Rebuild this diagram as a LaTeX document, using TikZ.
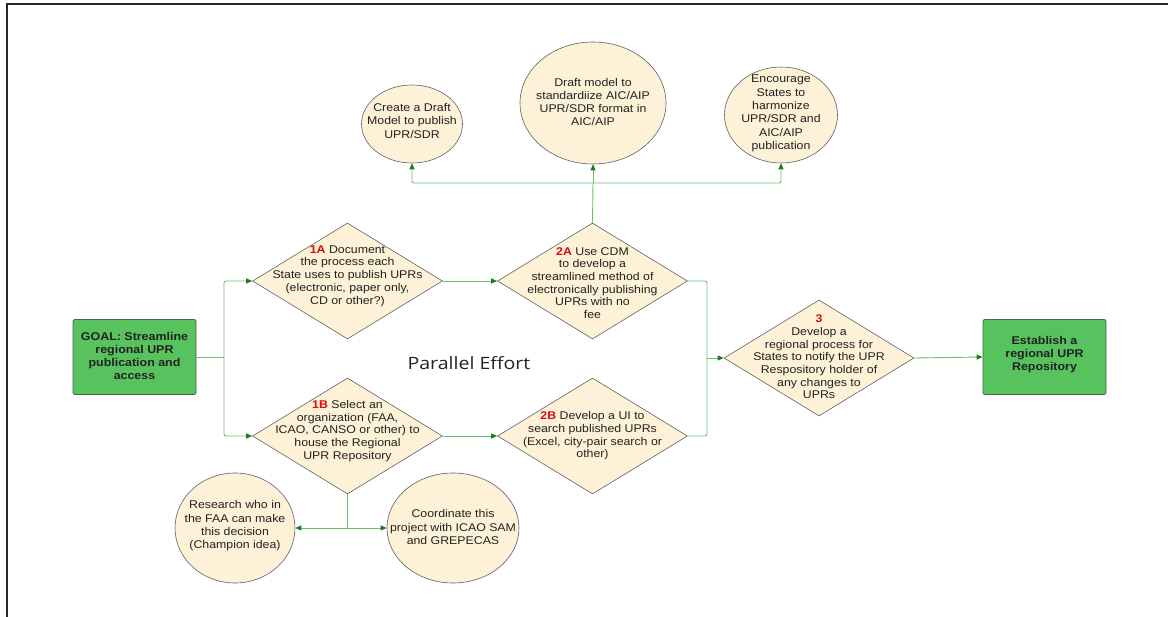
\documentclass[tikz,border=0pt]{standalone}
\usepackage{fontspec}
\setmainfont{Liberation Sans}[FakeStretch=1.1]
\newfontfamily\pefont{Open Sans}[FakeStretch=1.15]
\usetikzlibrary{shapes.geometric,arrows.meta}
\definecolor{cream}{HTML}{FDF1D8}
\definecolor{boxgreen}{HTML}{58C35E}
\definecolor{boxedge}{HTML}{3F6B42}
\definecolor{linegreen}{HTML}{6CBF70}
\definecolor{tipgreen}{HTML}{1E7A22}
\definecolor{labred}{HTML}{D01010}
\definecolor{txtc}{HTML}{222222}
\newcommand{\lab}[1]{\textcolor{labred}{\textbf{#1}}}
\begin{document}
\begin{tikzpicture}[x=1pt,y=-1pt,
  dia/.style={diamond, draw=gray!75!black, line width=0.6pt, fill=cream, minimum width=190pt, minimum height=116pt, inner sep=0pt},
  ell/.style={ellipse, draw=gray!75!black, line width=0.6pt, fill=cream, inner sep=0pt},
  gbox/.style={rectangle, rounded corners=2pt, draw=boxedge, line width=0.8pt, fill=boxgreen, minimum width=123pt, minimum height=75pt, inner sep=0pt},
  txt/.style={align=center, font=\fontsize{11.2}{12.7}\selectfont, text=txtc, inner sep=0pt},
  etxt/.style={align=center, font=\fontsize{11.2}{13.3}\selectfont, text=txtc, inner sep=0pt},
  btxt/.style={align=center, font=\fontsize{11.3}{13}\selectfont\bfseries, text=txtc, inner sep=0pt},
  conn/.style={draw=linegreen, line width=0.9pt, rounded corners=2pt},
  arr/.style={conn, -{Triangle[length=6pt, width=5pt, color=tipgreen]}}
]
\useasboundingbox (0,0) rectangle (1168,617);
\draw[line width=2.2pt, black!85] (7,617) -- (7,4) -- (1168,4);

% boxes
\node[gbox] (goal) at (134.5,357) {};
\node[btxt] at (134.5,356) {GOAL: Streamline\\regional UPR\\publication and\\access};
\node[gbox] (estab) at (1044.5,357) {};
\node[btxt] at (1044.5,355) {Establish a\\regional UPR\\Repository};

% diamonds
\node[dia] (d1a) at (347.5,281) {};
\node[txt] at (347.5,276) {\lab{1A} Document\\the process each\\State uses to publish UPRs\\(electronic, paper only,\\CD or other?)};
\node[dia] (d2a) at (592.5,281) {};
\node[txt] at (592.5,283) {\lab{2A} Use CDM\\to develop a\\streamlined method of\\electronically publishing\\UPRs with no\\fee};
\node[dia] (d1b) at (347.5,436) {};
\node[txt] at (347.5,431) {\lab{1B} Select an\\organization (FAA,\\ICAO, CANSO or other) to\\house the Regional\\UPR Repository};
\node[dia] (d2b) at (592.5,436) {};
\node[txt] at (592.5,436) {\lab{2B} Develop a UI to\\search published UPRs\\(Excel, city-pair search or\\other)};
\node[dia] (d3) at (819,358) {};
\node[txt] at (819,357) {\lab{3}\\Develop a\\regional process for\\States to notify the UPR\\Respository holder of\\any changes to\\UPRs};

% ellipses
\node[ell, minimum width=101pt, minimum height=78pt] (e1) at (412,124) {};
\node[etxt] at (412,121) {Create a Draft\\Model to publish\\UPR/SDR};
\node[ell, minimum width=146pt, minimum height=122pt] (e2) at (593,103) {};
\node[etxt] at (593,102) {Draft model to\\standardiize AIC/AIP\\UPR/SDR format in\\AIC/AIP};
\node[ell, minimum width=113pt, minimum height=96pt] (e3) at (781,115) {};
\node[etxt] at (781,113.5) {Encourage\\States to\\harmonize\\UPR/SDR and\\AIC/AIP\\publication};
\node[ell, minimum width=120pt, minimum height=110pt] (e4) at (235,528) {};
\node[etxt] at (235,526) {Research who in\\the FAA can make\\this decision\\(Champion idea)};
\node[ell, minimum width=132pt, minimum height=110pt] (e5) at (453,528) {};
\node[etxt] at (453,527) {Coordinate this\\project with ICAO SAM\\and GREPECAS};

% label
\node[font=\pefont\fontsize{17}{20}\selectfont, text=txtc, inner sep=0pt] (pe) at (469,363) {Parallel Effort};

% connectors
\coordinate (j1) at (224,357);
\coordinate (j2) at (707,358);
\coordinate (j3) at (593,183);
\coordinate (j4) at (347.5,528);
\draw[conn] (goal.east) -- (j1);
\draw[arr] (j1) |- (d1a.west);
\draw[arr] (j1) |- (d1b.west);
\draw[arr] (d1a.east) -- (d2a.west);
\draw[arr] (d1b.east) -- (d2b.west);
\draw[conn] (d2a.east) -| (j2);
\draw[conn] (d2b.east) -| (j2);
\draw[arr] (j2) -- (d3.west);
\draw[arr] (d3.east) -- (estab.west);
\draw[conn] (d2a.north) -- (j3);
\draw[arr] (j3) -| (e1.south);
\draw[arr] (j3) -- (e2.south);
\draw[arr] (j3) -| (e3.south);
\draw[conn] (d1b.south) -- (j4);
\draw[arr] (j4) -- (e4.east);
\draw[arr] (j4) -- (e5.west);
\end{tikzpicture}
\end{document}
